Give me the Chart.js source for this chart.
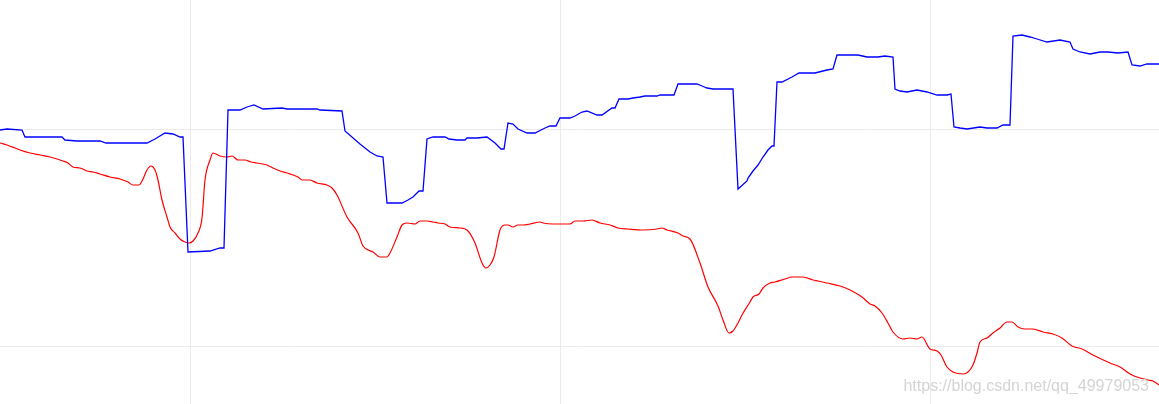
<!DOCTYPE html>
<html>
<head>
<meta charset="utf-8">
<script src="https://cdn.jsdelivr.net/npm/chart.js@4/dist/chart.umd.min.js"></script>
<style>
  body { margin: 0; background: #fff; }
  #wrap { position: relative; width: 1159px; height: 404px; }
  #mark {
    position: absolute; right: 10px; top: 378px;
    font: 16px 'Liberation Sans', Arial, sans-serif; line-height: 16px;
    color: #d4d4d4; white-space: nowrap;
  }
</style>
</head>
<body>
<div id="wrap">
  <canvas id="chart" width="1159" height="404"></canvas>
  <div id="mark">https://blog.csdn.net/qq_49979053</div>
</div>
<script>
// grid positions (axis values)
const xGridAt = [191, 560, 930];
const yGridAt = [0, 216];

// blue series
const blueX = [0,7,22,25,62,65,77,87,100,106,147,155,165,173,180,183,188,210,220,224,228,240,247,254,263,282,287,317,320,342,345,360,370,377,383,387,402,408,413,419,423,427,433,445,449,457,465,467,477,487,495,501,504,508,513,518,527,535,545,550,556,560,570,575,582,587,597,602,612,615,619,628,633,640,645,657,660,665,674,678,697,702,707,713,733,738,747,748,753,758,763,768,772,774,777,782,792,799,815,827,833,837,858,867,878,885,893,895,900,907,917,927,937,947,951,954,960,967,980,987,997,1003,1010,1013,1022,1030,1037,1047,1060,1070,1073,1080,1090,1100,1108,1118,1128,1132,1140,1147,1159];
const blueY = [216,217,216,209,209,206,205,205,205,203,203,207,213,212,209,209,94,95,98,98,236,236,239,241,237,238,237,237,236,235,215,202,194,190,189,143,143,146,149,155,155,207,209,209,207,206,206,208,208,209,203,197,197,223,222,217,213,213,218,220,220,228,228,230,234,235,231,231,238,238,247,247,248,249,250,250,251,251,251,262,262,260,258,257,257,157,165,168,175,181,189,196,200,200,264,264,269,273,273,276,277,291,291,289,289,290,289,257,255,254,256,254,251,251,252,219,218,217,219,218,218,221,221,310,311,309,307,304,306,304,297,294,292,294,294,293,294,281,280,282,282];

// red series
const redX = [0,7,15,20,30,40,50,63,68,73,80,87,93,100,110,120,128,133,139,143,147,151,155,158,162,167,170,175,180,185,189,193,198,202,205,210,213,220,227,232,238,245,251,257,267,273,280,287,298,302,310,317,327,332,337,347,358,363,373,380,387,390,397,402,407,415,420,427,433,438,445,450,460,467,475,482,486,490,494,500,505,508,513,518,523,530,540,543,553,560,570,575,583,592,600,610,618,628,643,657,662,667,678,683,690,700,708,718,723,729,733,738,742,750,753,759,763,770,775,785,792,803,813,818,827,840,850,862,870,875,882,888,893,903,910,917,922,930,937,941,947,953,963,968,973,977,980,987,993,1000,1007,1012,1018,1025,1033,1043,1053,1062,1072,1082,1093,1110,1120,1130,1140,1148,1153,1159];
const redY = [203,201,198,196,193,191,189,185,183,179,178,175,174,172,169,167,164,161,161,167,176,180,176,166,146,129,119,113,107,104,103,105,113,128,166,186,193,190,189,190,186,186,184,183,181,178,175,173,169,166,166,163,161,158,151,129,113,100,94,89,89,93,109,121,123,122,125,125,124,123,122,119,118,116,103,83,78,81,89,116,121,121,119,121,121,122,124,123,122,122,122,125,125,126,123,121,118,117,116,117,118,116,113,110,107,83,59,40,26,13,15,23,31,44,49,52,58,63,64,67,69,69,66,65,63,60,56,49,42,40,33,23,14,7,8,7,9,-3,-5,-9,-21,-26,-28,-26,-19,-7,4,8,13,18,24,24,19,17,17,14,12,8,0,-3,-9,-17,-21,-28,-32,-34,-35,-39];

const toPoints = (xs, ys) => xs.map((x, i) => ({ x: x, y: ys[i] }));

const ctx = document.getElementById('chart').getContext('2d');
new Chart(ctx, {
    type: 'line',
    data: {
        datasets: [{
            label: 'blue',
            data: toPoints(blueX, blueY),
            borderColor: '#0000ff',
            borderWidth: 1.3,
            pointRadius: 0,
            tension: 0,
            clip: false
        }, {
            label: 'red',
            data: toPoints(redX, redY),
            borderColor: '#ff0000',
            borderWidth: 1.2,
            pointRadius: 0,
            cubicInterpolationMode: 'monotone', // smoother curve like the original
            clip: false
        }]
    },
    options: {
        responsive: false,
        animation: false,
        layout: { padding: 0 },
        plugins: {
            legend: { display: false },
            tooltip: { enabled: false }
        },
        scales: {
            x: {
                type: 'linear',
                min: 0,
                max: 1159,
                ticks: { display: false },
                grid: { color: '#ebebeb', drawTicks: false, tickLength: 0 },
                border: { display: false },
                afterBuildTicks: axis => { axis.ticks = xGridAt.map(v => ({ value: v })); }
            },
            y: {
                min: -58,
                max: 346,
                ticks: { display: false },
                grid: { color: '#ebebeb', drawTicks: false, tickLength: 0 },
                border: { display: false },
                afterBuildTicks: axis => { axis.ticks = yGridAt.map(v => ({ value: v })); }
            }
        }
    }
});
</script>
</body>
</html>
